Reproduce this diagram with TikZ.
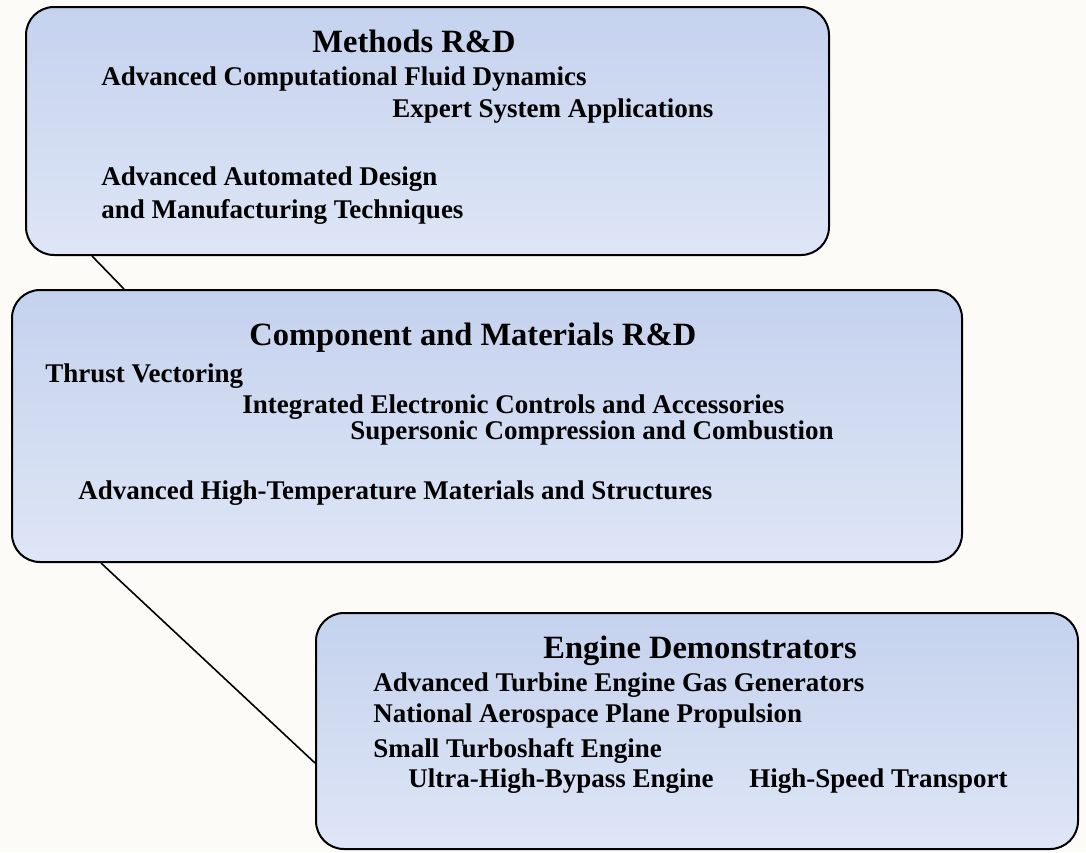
\documentclass[tikz,border=0pt]{standalone}
\usepackage{fontspec}
\setmainfont{Liberation Serif}
\definecolor{boxtop}{HTML}{C5D2EE}
\definecolor{boxbot}{HTML}{DEE6F6}
\definecolor{paper}{HTML}{FDFBF8}

\begin{document}
\begin{tikzpicture}[x=0.5pt, y=-0.5pt,
  box/.style={draw, line width=1pt, rounded corners=14pt,
    top color=boxtop, bottom color=boxbot, inner sep=0pt},
  head/.style={anchor=base west, inner sep=0pt,
    font=\fontsize{16.25}{19}\selectfont\bfseries},
  item/.style={anchor=base west, inner sep=0pt,
    font=\fontsize{13.5}{16}\selectfont\bfseries}]
  \fill [paper] (0,0) rectangle (1086,852);
  \node [box, minimum width=401.5pt, minimum height=124pt] (1) at (427.5,131) {};
  \node [box, minimum width=475pt, minimum height=136pt] (2) at (487,426) {};
  \node [box, minimum width=381pt, minimum height=118pt] (3) at (697,731) {};
  \draw [line width=0.8pt] ([xshift=33.5pt]1.south west) to ([xshift=56.5pt]2.north west);
  \draw [line width=0.8pt] ([xshift=45pt]2.south west) to ([yshift=-16pt]3.west);
  \node [head] (1h) at (312,52) {Methods R\&D};
  \node [item] (1a) at (101,85) {Advanced Computational Fluid Dynamics};
  \node [item] (1b) at (392,117) {Expert System Applications};
  \node [item] (1c) at (101,185) {Advanced Automated Design};
  \node [item] (1d) at (101,218) {and Manufacturing Techniques};
  \node [head] (2h) at (249,345) {Component and Materials R\&D};
  \node [item] (2a) at (45,382) {Thrust Vectoring};
  \node [item] (2b) at (242,413) {Integrated Electronic Controls and Accessories};
  \node [item] (2c) at (350,439) {Supersonic Compression and Combustion};
  \node [item] (2d) at (78,499) {Advanced High-Temperature Materials and Structures};
  \node [head] (3h) at (543,658) {Engine Demonstrators};
  \node [item] (3a) at (373,691) {Advanced Turbine Engine Gas Generators};
  \node [item] (3b) at (373,722) {National Aerospace Plane Propulsion};
  \node [item] (3c) at (373,757) {Small Turboshaft Engine};
  \node [item] (3d) at (408,787) {Ultra-High-Bypass Engine};
  \node [item] (3e) at (749,787) {High-Speed Transport};
\end{tikzpicture}
\end{document}
